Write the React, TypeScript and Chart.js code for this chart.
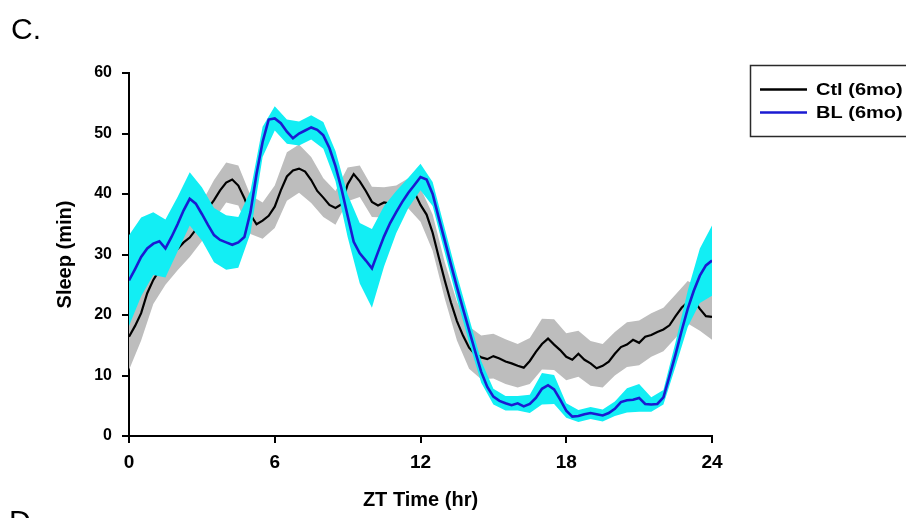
import React, { useEffect, useRef } from 'react';
import { Chart, registerables } from 'chart.js';

Chart.register(...registerables);

// Sleep per 30-min window, sampled every 15 min across the 24 h ZT day.
const STEP_HR = 0.25;

const ctlSleep = [
  16.4, 18.2, 20.3, 23.6, 25.8, 27.4, 28.8, 30.1, 30.9, 32.0, 32.8, 34.1,
  35.4, 37.6, 39.0, 40.6, 41.9, 42.4, 41.4, 39.3, 36.6, 35.0, 35.6, 36.4,
  37.9, 40.6, 42.9, 43.9, 44.2, 43.7, 42.3, 40.5, 39.4, 38.2, 37.7, 38.3,
  41.6, 43.3, 42.1, 40.5, 38.7, 38.1, 38.6, 38.4, 38.9, 39.6, 40.1, 40.3,
  38.2, 36.6, 33.6, 29.6, 25.7, 22.1, 19.0, 16.6, 14.6, 13.5, 13.0, 12.7,
  13.2, 12.8, 12.3, 12.0, 11.6, 11.3, 12.4, 13.9, 15.2, 16.1, 15.1, 14.2,
  13.1, 12.6, 13.6, 12.6, 12.0, 11.2, 11.6, 12.3, 13.6, 14.7, 15.1, 15.9,
  15.4, 16.4, 16.7, 17.2, 17.6, 18.3, 19.8, 21.2, 22.1, 22.4, 21.0, 19.8,
  19.7,
];

const blSleep = [
  25.7, 27.6, 29.6, 31.0, 31.8, 32.2, 31.0, 32.9, 35.0, 37.3, 39.2, 38.4,
  36.7, 34.9, 33.2, 32.4, 32.0, 31.6, 32.0, 32.9, 37.0, 43.3, 48.6, 52.3,
  52.5, 51.7, 50.3, 49.2, 50.0, 50.5, 51.0, 50.6, 49.7, 47.6, 44.6, 40.8,
  36.4, 32.1, 30.2, 29.0, 27.7, 30.4, 33.0, 35.2, 37.0, 38.7, 40.2, 41.5,
  42.8, 42.4, 40.0, 36.1, 32.3, 28.4, 24.6, 21.0, 17.5, 14.0, 10.6, 8.1,
  6.5, 5.8, 5.4, 5.1, 5.4, 4.9, 5.3, 6.3, 7.8, 8.4, 7.7, 6.0,
  4.2, 3.2, 3.3, 3.6, 3.8, 3.6, 3.4, 3.8, 4.5, 5.6, 5.9, 6.0,
  6.3, 5.3, 5.2, 5.3, 6.4, 9.9, 13.5, 17.4, 21.0, 24.0, 26.5, 28.2,
  29.0,
];

// Standard error, every 30 min (pairs with every second mean sample).
const ctlSem = [
  5.5, 4.5, 4.0, 3.8, 3.5, 3.2, 3.2, 3.3, 3.3, 3.3, 3.2, 3.0,
  3.5, 4.0, 4.0, 3.8, 3.2, 2.8, 2.8, 2.6, 2.5, 2.5, 2.5, 2.5,
  2.8, 3.0, 3.0, 3.2, 3.5, 3.6, 3.7, 3.7, 3.6, 3.8, 4.2, 4.2,
  3.9, 3.8, 3.7, 3.6, 3.6, 3.7, 3.7, 3.6, 3.6, 3.6, 3.5, 3.6,
  3.8,
];

const blSem = [
  7.5, 6.5, 5.2, 4.8, 4.5, 4.4, 4.4, 4.5, 4.5, 4.2, 3.5, 2.5,
  2.0, 2.0, 2.0, 2.0, 2.2, 2.5, 3.5, 5.0, 6.5, 5.0, 3.5, 2.5,
  2.2, 2.0, 2.0, 2.0, 2.0, 1.8, 1.3, 1.2, 1.2, 1.5, 2.6, 2.4,
  1.2, 1.0, 1.0, 1.0, 1.2, 2.0, 2.3, 1.2, 1.2, 2.0, 3.0, 4.5,
  5.8,
];

const xTicks = [0, 6, 12, 18, 24];
const yTicks = [0, 10, 20, 30, 40, 50, 60];
const seriesLabels = ['Ctl (6mo)', 'BL (6mo)'];
const lineColors = ['#000000', '#1a1ad2'];
const bandColors = ['#bdbdbd', '#12eef4'];
const xTitle = 'ZT Time (hr)';
const yTitle = 'Sleep (min)';

const FONT = "'Liberation Sans', Arial, Helvetica, sans-serif";

const linePoints = (values: number[]) =>
  values.map((v, i) => ({ x: i * STEP_HR, y: v }));

const bandPoints = (values: number[], sem: number[], sign: number) =>
  sem.map((s, i) => ({ x: i * 2 * STEP_HR, y: values[i * 2] + sign * s }));

// Panel letters and the boxed key in the upper right.
const panelText = {
  id: 'panelText',
  afterDraw(chart: any) {
    const ctx = chart.ctx as CanvasRenderingContext2D;
    ctx.save();
    ctx.fillStyle = '#000';
    ctx.textAlign = 'left';
    ctx.textBaseline = 'alphabetic';
    ctx.font = `30px ${FONT}`;
    ctx.fillText('C.', 11, 39);
    ctx.fillText('D', 9, 531);

    ctx.strokeStyle = '#2a2a2a';
    ctx.lineWidth = 1.5;
    ctx.strokeRect(750.5, 65.5, 200, 71);

    ctx.font = `bold 16px ${FONT}`;
    ctx.textBaseline = 'middle';
    const rows = [89.5, 112.5];
    seriesLabels.forEach((label, i) => {
      ctx.strokeStyle = lineColors[i];
      ctx.lineWidth = 2.5;
      ctx.beginPath();
      ctx.moveTo(760, rows[i]);
      ctx.lineTo(807, rows[i]);
      ctx.stroke();
      // key labels are set in a widened face
      ctx.save();
      ctx.translate(816, rows[i] + 1);
      ctx.scale(1.25, 1);
      ctx.fillStyle = '#000';
      ctx.fillText(label, 0, 0);
      ctx.restore();
    });
    ctx.restore();
  },
};

export default function App() {
  const canvasRef = useRef<HTMLCanvasElement | null>(null);

  useEffect(() => {
    const canvas = canvasRef.current;
    if (!canvas) return;

    const tickFont = (size: number) => ({ family: FONT, size, weight: 'bold' as const });

    const chart = new Chart(canvas, {
      type: 'line',
      data: {
        datasets: [
          {
            label: seriesLabels[1],
            data: linePoints(blSleep),
            borderColor: lineColors[1],
            borderWidth: 2.6,
            pointRadius: 0,
            fill: false,
            order: 0,
          },
          {
            label: 'BL upper',
            data: bandPoints(blSleep, blSem, 1),
            borderWidth: 0,
            borderColor: 'rgba(0,0,0,0)',
            backgroundColor: bandColors[1],
            pointRadius: 0,
            fill: '+1',
            order: 1,
          },
          {
            label: 'BL lower',
            data: bandPoints(blSleep, blSem, -1),
            borderWidth: 0,
            borderColor: 'rgba(0,0,0,0)',
            pointRadius: 0,
            fill: false,
            order: 1,
          },
          {
            label: seriesLabels[0],
            data: linePoints(ctlSleep),
            borderColor: lineColors[0],
            borderWidth: 2.2,
            pointRadius: 0,
            fill: false,
            order: 2,
          },
          {
            label: 'Ctl upper',
            data: bandPoints(ctlSleep, ctlSem, 1),
            borderWidth: 0,
            borderColor: 'rgba(0,0,0,0)',
            backgroundColor: bandColors[0],
            pointRadius: 0,
            fill: '+1',
            order: 3,
          },
          {
            label: 'Ctl lower',
            data: bandPoints(ctlSleep, ctlSem, -1),
            borderWidth: 0,
            borderColor: 'rgba(0,0,0,0)',
            pointRadius: 0,
            fill: false,
            order: 3,
          },
        ],
      },
      options: {
        animation: false,
        responsive: false,
        maintainAspectRatio: false,
        layout: { padding: { left: 0, top: 73, right: 194, bottom: 0 } },
        elements: { line: { tension: 0 }, point: { radius: 0 } },
        plugins: {
          legend: { display: false },
          tooltip: { enabled: false },
          title: { display: false },
        },
        scales: {
          x: {
            type: 'linear',
            min: 0,
            max: 24,
            afterBuildTicks: (s: any) => {
              s.ticks = xTicks.map((value) => ({ value }));
            },
            afterFit: (s: any) => {
              s.height = 82;
            },
            ticks: {
              color: '#000',
              font: tickFont(19),
              padding: 8,
              maxRotation: 0,
              autoSkip: false,
            },
            grid: {
              display: true,
              drawOnChartArea: false,
              drawTicks: true,
              tickLength: 7,
              color: '#000',
              lineWidth: 2,
            },
            border: { display: true, color: '#000', width: 2 },
            title: {
              display: true,
              text: xTitle,
              color: '#000',
              font: tickFont(20),
              padding: { top: 0, bottom: 6 },
            },
          },
          y: {
            type: 'linear',
            min: 0,
            max: 60,
            afterBuildTicks: (s: any) => {
              s.ticks = yTicks.map((value) => ({ value }));
            },
            afterFit: (s: any) => {
              s.width = 129;
            },
            ticks: {
              color: '#000',
              font: tickFont(16),
              padding: 10,
              autoSkip: false,
            },
            grid: {
              display: true,
              drawOnChartArea: false,
              drawTicks: true,
              tickLength: 7,
              color: '#000',
              lineWidth: 2,
            },
            border: { display: true, color: '#000', width: 2 },
            title: {
              display: true,
              text: yTitle,
              color: '#000',
              font: tickFont(20),
              padding: { top: 53, bottom: 0 },
            },
          },
        },
      },
      plugins: [panelText],
    } as any);

    return () => chart.destroy();
  }, []);

  return (
    <div
      style={{
        position: 'absolute',
        left: 0,
        top: 0,
        width: 906,
        height: 518,
        background: '#fff',
        overflow: 'hidden',
      }}
    >
      <canvas ref={canvasRef} width={906} height={518} style={{ display: 'block' }} />
    </div>
  );
}
